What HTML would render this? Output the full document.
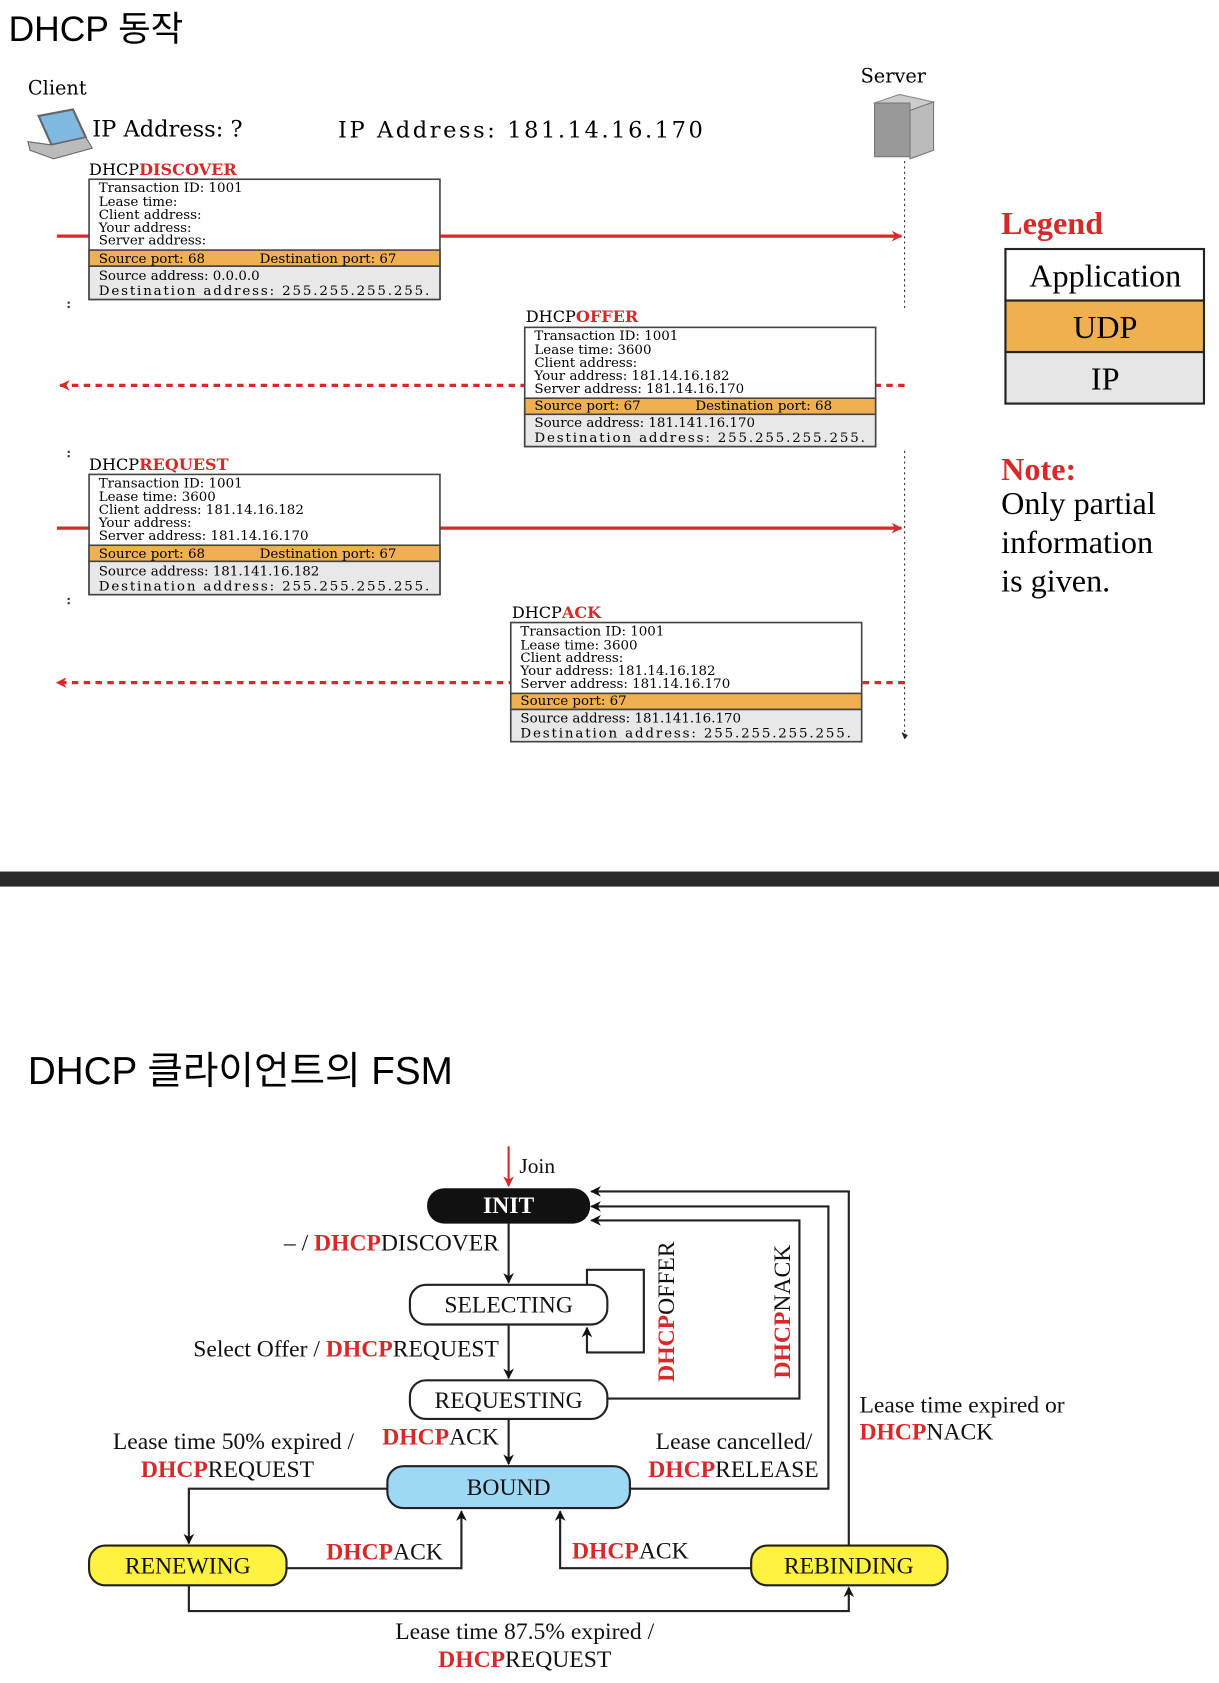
<!DOCTYPE html>
<html><head><meta charset="utf-8"><style>
html,body{margin:0;padding:0;background:#fff;width:1219px;height:1683px;overflow:hidden}
svg{display:block}
.s{font-family:"Liberation Serif",serif}
.d{font-family:"DejaVu Serif",serif}
.k{font-family:"Liberation Sans","Noto Sans CJK KR",sans-serif}
.r{fill:#d62a2a;font-weight:bold}
</style></head><body>
<svg width="1219" height="1683" viewBox="0 0 1136 1568" preserveAspectRatio="none" xmlns="http://www.w3.org/2000/svg">
<defs>
<marker id="ar" markerWidth="10" markerHeight="10" refX="9" refY="5" orient="auto" markerUnits="userSpaceOnUse"><path d="M0,0 L10,5 L0,10 L3,5z" fill="#d62a2a"/></marker>
<marker id="ab" markerWidth="10" markerHeight="10" refX="9" refY="5" orient="auto" markerUnits="userSpaceOnUse"><path d="M0,0 L10,5 L0,10 L3,5z" fill="#111"/></marker>
</defs>
<text x="8" y="38" class="k" font-size="33">DHCP 동작</text>
<text x="26" y="88" class="d" font-size="18">Client</text>
<text x="802" y="77" class="d" font-size="18">Server</text>
<text x="86" y="127" class="d" font-size="21">IP Address: ?</text>
<text x="315" y="128" class="d" font-size="21" textLength="340">IP Address: 181.14.16.170</text>
<!-- laptop -->
<polygon points="36,108 68,102 80,128 48,135" fill="#7fb8e0" stroke="#666" stroke-width="2"/>
<polygon points="26,132 48,135 80,128 86,138 50,148 28,140" fill="#bbb" stroke="#666" stroke-width="1"/>
<!-- server -->
<polygon points="815,96 838,88 870,95 848,103" fill="#ccc" stroke="#888"/>
<rect x="815" y="96" width="33" height="50" fill="#999" stroke="#777"/>
<polygon points="848,103 870,95 870,140 848,148" fill="#bbb" stroke="#777"/>
<line x1="843" y1="150" x2="843" y2="290" stroke="#333" stroke-dasharray="2,3"/>
<line x1="843" y1="420" x2="843" y2="688" stroke="#333" stroke-dasharray="2,3"/>
<path d="M840,682 l3,7 l3,-4z" fill="#222"/>
<g fill="#333"><rect x="63" y="281" width="2" height="2"/><rect x="63" y="285" width="2" height="2"/><rect x="63" y="420" width="2" height="2"/><rect x="63" y="424" width="2" height="2"/><rect x="63" y="557" width="2" height="2"/><rect x="63" y="561" width="2" height="2"/></g>

<line x1="53" y1="220" x2="840" y2="220" stroke="#d62a2a" stroke-width="3" marker-end="url(#ar)"/>
<line x1="843" y1="359" x2="56" y2="359" stroke="#d62a2a" stroke-width="3" stroke-dasharray="6,5" marker-end="url(#ar)"/>
<line x1="53" y1="492" x2="840" y2="492" stroke="#d62a2a" stroke-width="3" marker-end="url(#ar)"/>
<line x1="843" y1="636" x2="53" y2="636" stroke="#d62a2a" stroke-width="3" stroke-dasharray="6,5" marker-end="url(#ar)"/>

<g class="d" font-size="12.5">
<text x="83" y="163" font-size="15">DHCP<tspan class="r">DISCOVER</tspan></text>
<rect x="83" y="167" width="327" height="112" fill="#fff" stroke="#444" stroke-width="1.5"/>
<rect x="83" y="233" width="327" height="15" fill="#f0b050" stroke="#444" stroke-width="1.5"/>
<rect x="83" y="248" width="327" height="31" fill="#e8e8e8" stroke="#444" stroke-width="1.5"/>
<text x="92" y="179">Transaction ID: 1001</text><text x="92" y="192">Lease time:</text><text x="92" y="204">Client address:</text><text x="92" y="216">Your address:</text><text x="92" y="228">Server address:</text>
<text x="92" y="245">Source port: 68</text><text x="242" y="245">Destination port: 67</text>
<text x="92" y="261">Source address: 0.0.0.0</text><text x="92" y="275" textLength="308">Destination address: 255.255.255.255.</text>

<text x="490" y="300" font-size="15">DHCP<tspan class="r">OFFER</tspan></text>
<rect x="489" y="305" width="327" height="111" fill="#fff" stroke="#444" stroke-width="1.5"/>
<rect x="489" y="371" width="327" height="15" fill="#f0b050" stroke="#444" stroke-width="1.5"/>
<rect x="489" y="386" width="327" height="30" fill="#e8e8e8" stroke="#444" stroke-width="1.5"/>
<text x="498" y="317">Transaction ID: 1001</text><text x="498" y="330">Lease time: 3600</text><text x="498" y="342">Client address:</text><text x="498" y="354">Your address: 181.14.16.182</text><text x="498" y="366">Server address: 181.14.16.170</text>
<text x="498" y="382">Source port: 67</text><text x="648" y="382">Destination port: 68</text>
<text x="498" y="398">Source address: 181.141.16.170</text><text x="498" y="412" textLength="308">Destination address: 255.255.255.255.</text>

<text x="83" y="438" font-size="15">DHCP<tspan class="r">REQUEST</tspan></text>
<rect x="83" y="442" width="327" height="112" fill="#fff" stroke="#444" stroke-width="1.5"/>
<rect x="83" y="508" width="327" height="15" fill="#f0b050" stroke="#444" stroke-width="1.5"/>
<rect x="83" y="523" width="327" height="31" fill="#e8e8e8" stroke="#444" stroke-width="1.5"/>
<text x="92" y="454">Transaction ID: 1001</text><text x="92" y="467">Lease time: 3600</text><text x="92" y="479">Client address: 181.14.16.182</text><text x="92" y="491">Your address:</text><text x="92" y="503">Server address: 181.14.16.170</text>
<text x="92" y="520">Source port: 68</text><text x="242" y="520">Destination port: 67</text>
<text x="92" y="536">Source address: 181.141.16.182</text><text x="92" y="550" textLength="308">Destination address: 255.255.255.255.</text>

<text x="477" y="576" font-size="15">DHCP<tspan class="r">ACK</tspan></text>
<rect x="476" y="580" width="327" height="111" fill="#fff" stroke="#444" stroke-width="1.5"/>
<rect x="476" y="646" width="327" height="15" fill="#f0b050" stroke="#444" stroke-width="1.5"/>
<rect x="476" y="661" width="327" height="30" fill="#e8e8e8" stroke="#444" stroke-width="1.5"/>
<text x="485" y="592">Transaction ID: 1001</text><text x="485" y="605">Lease time: 3600</text><text x="485" y="617">Client address:</text><text x="485" y="629">Your address: 181.14.16.182</text><text x="485" y="641">Server address: 181.14.16.170</text>
<text x="485" y="657">Source port: 67</text>
<text x="485" y="673">Source address: 181.141.16.170</text><text x="485" y="687" textLength="308">Destination address: 255.255.255.255.</text>
</g>

<g class="s" font-size="30">
<text x="933" y="218" class="r">Legend</text>
<rect x="937" y="232" width="185" height="48" fill="#fff" stroke="#222" stroke-width="2"/>
<rect x="937" y="280" width="185" height="48" fill="#f0b050" stroke="#222" stroke-width="2"/>
<rect x="937" y="328" width="185" height="48" fill="#e6e6e6" stroke="#222" stroke-width="2"/>
<text x="1030" y="267" text-anchor="middle">Application</text>
<text x="1030" y="315" text-anchor="middle">UDP</text>
<text x="1030" y="363" text-anchor="middle">IP</text>
<text x="933" y="447" class="r">Note:</text>
<text x="933" y="479">Only partial</text>
<text x="933" y="515">information</text>
<text x="933" y="551">is given.</text>
</g>

<rect x="0" y="812" width="1136" height="14" fill="#2a2a2a"/>
<text x="26" y="1010" class="k" font-size="36">DHCP 클라이언트의 FSM</text>

<g class="s" font-size="22" fill="#111">
<line x1="474" y1="1068" x2="474" y2="1105" stroke="#d62a2a" stroke-width="2" marker-end="url(#ar)"/>
<text x="484" y="1093" font-size="20">Join</text>
<g stroke="#222" stroke-width="2" fill="none">
<path d="M474,1140 V1195" marker-end="url(#ab)"/>
<path d="M547,1197 V1183 H600 V1260 H547 V1237" marker-end="url(#ab)"/>
<path d="M474,1234 V1284" marker-end="url(#ab)"/>
<path d="M566,1303 H745 V1137 H551" marker-end="url(#ab)"/>
<path d="M474,1322 V1364" marker-end="url(#ab)"/>
<path d="M361,1387 H176 V1438" marker-end="url(#ab)"/>
<path d="M587,1387 H772 V1124 H551" marker-end="url(#ab)"/>
<path d="M267,1461 H430 V1408" marker-end="url(#ab)"/>
<path d="M700,1461 H522 V1408" marker-end="url(#ab)"/>
<path d="M791,1440 V1110 H551" marker-end="url(#ab)"/>
<path d="M176,1477 V1501 H791 V1479" marker-end="url(#ab)"/>
</g>
<rect x="398" y="1107" width="152" height="33" rx="16" fill="#111"/>
<text x="474" y="1130" text-anchor="middle" fill="#fff" font-weight="bold">INIT</text>
<rect x="382" y="1197" width="184" height="37" rx="15" fill="#fff" stroke="#222" stroke-width="2"/>
<text x="474" y="1223" text-anchor="middle">SELECTING</text>
<rect x="382" y="1286" width="184" height="36" rx="15" fill="#fff" stroke="#222" stroke-width="2"/>
<text x="474" y="1312" text-anchor="middle">REQUESTING</text>
<rect x="361" y="1366" width="226" height="39" rx="15" fill="#9ed8f5" stroke="#222" stroke-width="2"/>
<text x="474" y="1393" text-anchor="middle">BOUND</text>
<rect x="83" y="1440" width="184" height="37" rx="15" fill="#fdf23f" stroke="#222" stroke-width="2"/>
<text x="175" y="1466" text-anchor="middle">RENEWING</text>
<rect x="700" y="1440" width="183" height="37" rx="15" fill="#fdf23f" stroke="#222" stroke-width="2"/>
<text x="791" y="1466" text-anchor="middle">REBINDING</text>

<text x="465" y="1165" text-anchor="end">– / <tspan class="r">DHCP</tspan>DISCOVER</text>
<text x="465" y="1264" text-anchor="end">Select Offer / <tspan class="r">DHCP</tspan>REQUEST</text>
<text x="465" y="1346" text-anchor="end"><tspan class="r">DHCP</tspan>ACK</text>
<text x="330" y="1350" text-anchor="end">Lease time 50% expired /</text>
<text x="212" y="1376" text-anchor="middle"><tspan class="r">DHCP</tspan>REQUEST</text>
<text x="757" y="1350" text-anchor="end">Lease cancelled/</text>
<text x="763" y="1376" text-anchor="end"><tspan class="r">DHCP</tspan>RELEASE</text>
<text x="304" y="1453"><tspan class="r">DHCP</tspan>ACK</text>
<text x="533" y="1452"><tspan class="r">DHCP</tspan>ACK</text>
<text x="801" y="1316">Lease time expired or</text>
<text x="801" y="1341"><tspan class="r">DHCP</tspan>NACK</text>
<text x="489" y="1527" text-anchor="middle">Lease time 87.5% expired /</text>
<text x="489" y="1553" text-anchor="middle"><tspan class="r">DHCP</tspan>REQUEST</text>
<text transform="translate(628,1222) rotate(-90)" text-anchor="middle"><tspan class="r">DHCP</tspan>OFFER</text>
<text transform="translate(736,1222) rotate(-90)" text-anchor="middle"><tspan class="r">DHCP</tspan>NACK</text>
</g>
</svg>
</body></html>
